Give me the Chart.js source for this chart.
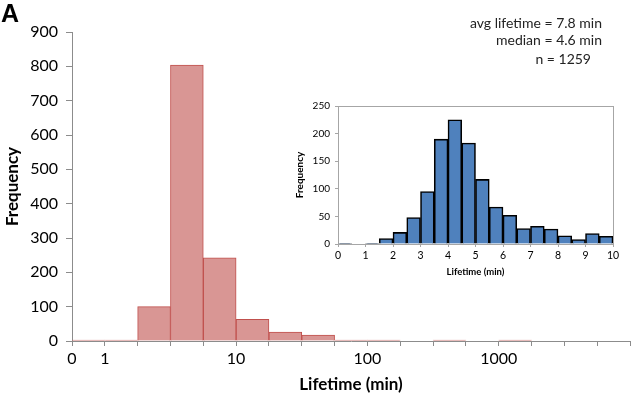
<!DOCTYPE html>
<html lang="en">
<head>
<meta charset="UTF-8">
<title>Lifetime histogram</title>
<script src="https://cdn.jsdelivr.net/npm/chart.js@4.4.0/dist/chart.umd.min.js"></script>
<style>
    body {
        margin: 0;
        background: #fff;
        font-family: Lato, 'Open Sans', sans-serif;
    }
    #wrap {
        position: relative;
        width: 633px;
        height: 400px;
    }
    #mainBox {
        position: absolute;
        left: 0;
        top: 0;
        width: 633px;
        height: 400px;
    }
    #insetBox {
        position: absolute;
        left: 285px;
        top: 95px;
        width: 340px;
        height: 185px;
        background: #fff;
    }
    .panel {
        position: absolute;
        left: 1px;
        top: -1px;
        font: bold 25px 'Liberation Sans', Arial, sans-serif;
        color: #000;
    }
    .note {
        position: absolute;
        font-size: 14px;
        color: #222;
        white-space: nowrap;
        text-align: right;
    }
</style>
</head>
<body>
<div id="wrap">
    <div id="mainBox"><canvas id="mainChart"></canvas></div>
    <div class="panel">A</div>
    <div class="note" style="right:31px; top:14px;">avg lifetime = 7.8 min</div>
    <div class="note" style="right:31px; top:31px;">median = 4.6 min</div>
    <div class="note" style="right:42px; top:50px;">n = 1259</div>
    <div id="insetBox"><canvas id="insetChart"></canvas></div>
</div>

<script>
    // main histogram: log-spaced bins, one per tick interval
    const mainTickLabels = ['0', '1', '', '', '', '10', '', '', '', '100', '', '', '', '1000', '', '', '', ''];
    const mainCounts = [3, 3, 100, 804, 242, 63, 26, 17, 3, 3, 0, 3, 0, 3, 0, 0, 0];

    // inset: 0.5 min bins from 0 to 10
    const insetTickLabels = ['0', '1', '2', '3', '4', '5', '6', '7', '8', '9', '10'];
    const insetBinWidth = 0.5;
    const insetCounts = [1, 0, 1, 10, 21, 48, 95, 190, 225, 183, 117, 67, 52, 28, 32, 27, 15, 8, 19, 14];

    const axisGrey = '#8c8c8c';

    // grey box round the inset plot area
    const framePlugin = {
        id: 'frame',
        afterDraw(chart) {
            const a = chart.chartArea;
            const ctx = chart.ctx;
            ctx.save();
            ctx.strokeStyle = '#a6a6a6';
            ctx.lineWidth = 1;
            ctx.strokeRect(a.left + 0.5, a.top + 0.5, a.right - a.left, a.bottom - a.top);
            ctx.restore();
        }
    };

    new Chart(document.getElementById('mainChart'), {
        type: 'bar',
        data: {
            datasets: [{
                data: mainCounts.map((v, i) => ({ x: i + 0.5, y: v })),
                backgroundColor: '#d99694',
                borderColor: '#c0504d',
                borderWidth: 1,
                barPercentage: 1,
                categoryPercentage: 1
            }]
        },
        options: {
            responsive: true,
            maintainAspectRatio: false,
            animation: false,
            layout: { padding: { top: 32, right: 1, left: 0, bottom: 0 } },
            plugins: { legend: { display: false }, tooltip: { enabled: false } },
            scales: {
                x: {
                    type: 'linear',
                    min: 0,
                    max: mainCounts.length,
                    offset: false,
                    afterFit: s => { s.height = 59; },
                    grid: { offset: false, drawOnChartArea: false, tickLength: 5, color: axisGrey },
                    border: { color: axisGrey },
                    ticks: {
                        stepSize: 1,
                        autoSkip: false,
                        maxRotation: 0,
                        padding: 3,
                        color: '#000',
                        font: { family: 'Lato', size: 16 },
                        callback: (v) => mainTickLabels[v] ?? ''
                    },
                    title: {
                        display: true,
                        text: 'Lifetime (min)',
                        color: '#000',
                        font: { family: 'Lato', size: 17, weight: 'bold' },
                        padding: { top: 0, bottom: 5 }
                    }
                },
                y: {
                    min: 0,
                    max: 900,
                    afterFit: s => { s.width = 72; },
                    grid: { drawOnChartArea: false, tickLength: 6, color: axisGrey },
                    border: { color: axisGrey },
                    ticks: {
                        stepSize: 100,
                        padding: 8,
                        color: '#000',
                        font: { family: 'Lato', size: 16 }
                    },
                    title: {
                        display: true,
                        text: 'Frequency',
                        color: '#000',
                        font: { family: 'Lato', size: 17, weight: 'bold' },
                        padding: { top: 2, bottom: 0 }
                    }
                }
            }
        }
    });

    new Chart(document.getElementById('insetChart'), {
        type: 'bar',
        data: {
            datasets: [{
                data: insetCounts.map((v, i) => ({ x: i * insetBinWidth + insetBinWidth / 2, y: v })),
                backgroundColor: '#4f81bd',
                borderColor: '#000',
                borderWidth: 1.6,
                barPercentage: 1,
                categoryPercentage: 1
            }]
        },
        options: {
            responsive: true,
            maintainAspectRatio: false,
            animation: false,
            layout: { padding: { top: 10, right: 12, left: 0, bottom: 0 } },
            plugins: { legend: { display: false }, tooltip: { enabled: false } },
            scales: {
                x: {
                    type: 'linear',
                    min: 0,
                    max: 10,
                    offset: false,
                    afterFit: s => { s.height = 36; },
                    grid: { offset: false, drawOnChartArea: false, tickLength: 3, color: '#a6a6a6' },
                    border: { color: '#a6a6a6' },
                    ticks: {
                        stepSize: 1,
                        autoSkip: false,
                        maxRotation: 0,
                        padding: 2,
                        color: '#000',
                        font: { family: 'Lato', size: 10.5 },
                        callback: (v) => insetTickLabels[v] ?? ''
                    },
                    title: {
                        display: true,
                        text: 'Lifetime (min)',
                        color: '#000',
                        font: { family: 'Lato', size: 9.5, weight: 'bold' },
                        padding: { top: 0, bottom: 2 }
                    }
                },
                y: {
                    min: 0,
                    max: 250,
                    afterFit: s => { s.width = 53; },
                    grid: { drawOnChartArea: false, tickLength: 3, color: '#a6a6a6' },
                    border: { color: '#a6a6a6' },
                    ticks: {
                        stepSize: 50,
                        padding: 5,
                        color: '#000',
                        font: { family: 'Lato', size: 10 }
                    },
                    title: {
                        display: true,
                        text: 'Frequency',
                        color: '#000',
                        font: { family: 'Lato', size: 10, weight: 'bold' },
                        padding: { top: 9, bottom: 0 }
                    }
                }
            }
        },
        plugins: [framePlugin]
    });
</script>
</body>
</html>
